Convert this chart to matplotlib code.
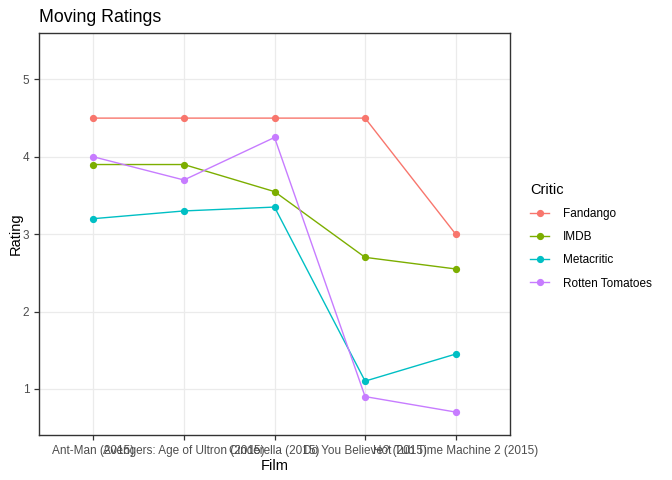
import matplotlib.pyplot as plt

plt.rcParams['font.family'] = ['Liberation Sans', 'DejaVu Sans']

films = ["Ant-Man (2015)", "Avengers: Age of Ultron (2015)", "Cinderella (2015)",
         "Do You Believe? (2015)", "Hot Tub Time Machine 2 (2015)"]
critics = ["Fandango", "IMDB", "Metacritic", "Rotten Tomatoes"]
fandango = [4.5, 4.5, 4.5, 4.5, 3.0]
imdb = [3.9, 3.9, 3.55, 2.7, 2.55]
metacritic = [3.2, 3.3, 3.35, 1.1, 1.45]
rotten = [4.0, 3.7, 4.25, 0.9, 0.7]

colors = ['#F8766D', '#7CAE00', '#00BFC4', '#C77CFF']

fig = plt.figure(figsize=(6.72, 4.8), dpi=100)
ax = fig.add_axes([0.058, 0.094, 0.701, 0.838])

x = range(len(films))
for name, vals, col in zip(critics, [fandango, imdb, metacritic, rotten], colors):
    ax.plot(x, vals, color=col, lw=1.0, marker='o', markersize=4.2, label=name)

ax.set_xlim(-0.6, 4.6)
ax.set_ylim(0.405, 5.605)
ax.set_xticks(list(x))
ax.set_xticklabels(films)
ax.set_yticks([1, 2, 3, 4, 5])
ax.grid(True, color='#EBEBEB', lw=0.9)
ax.set_axisbelow(True)
for s in ax.spines.values():
    s.set_color('#333333')
    s.set_linewidth(1.0)
ax.tick_params(colors='#333333', labelcolor='#4D4D4D', labelsize=8.5, length=3.5, width=0.9)

ax.set_xlabel('Film', fontsize=10.5, labelpad=2)
ax.set_ylabel('Rating', fontsize=10.5, labelpad=0)
ax.set_title('Moving Ratings', fontsize=12.8, loc='left', pad=8)

leg = ax.legend(title='Critic', loc='center left', bbox_to_anchor=(1.02, 0.494),
                frameon=False, fontsize=8.5, title_fontsize=10.5,
                handlelength=1.6, labelspacing=0.95, handletextpad=1.2)
leg._legend_box.align = 'left'

fig.savefig('out.png', dpi=100)
